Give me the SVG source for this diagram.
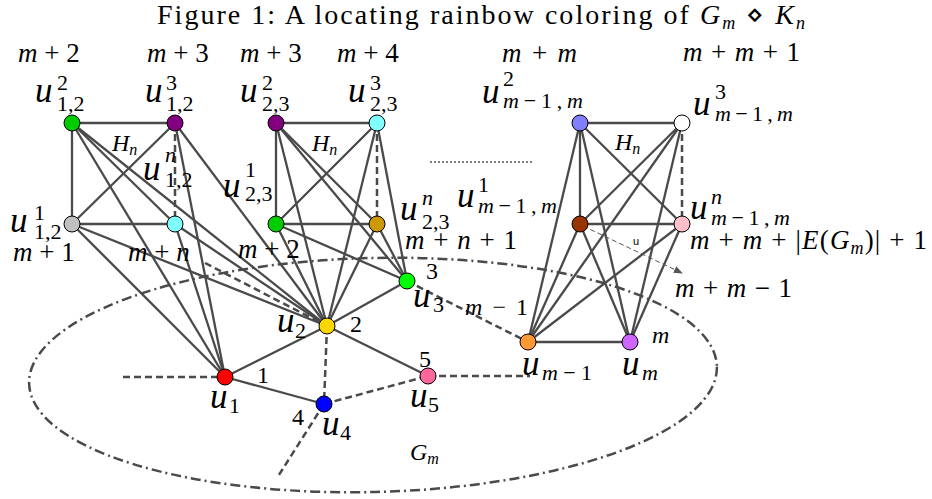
<svg xmlns="http://www.w3.org/2000/svg" width="932" height="499" viewBox="0 0 932 499" font-family="Liberation Serif, Times New Roman, serif">
<defs>
<style>
.e{stroke:#4a4a4a;stroke-width:2.3;fill:none}
.d{stroke:#4a4a4a;stroke-width:2.5;fill:none;stroke-dasharray:7 4}
.dd{stroke:#4a4a4a;stroke-width:2.5;fill:none;stroke-dasharray:10 4 2 4}
.n{stroke:#000;stroke-width:1}
.tx{fill:#000}
.it{font-style:italic}
.big{font-size:35px}
.sm{font-size:22px}
.md{font-size:27px}
.el{font-size:24px}
</style>
<marker id="ah" viewBox="0 0 10 10" refX="9" refY="5" markerWidth="9" markerHeight="9" orient="auto" markerUnits="userSpaceOnUse">
<path d="M0,1 L10,5 L0,9 Z" fill="#555"/>
</marker>
</defs>
<rect width="932" height="499" fill="#fff"/>

<text class="tx" x="157" y="24" font-size="28" textLength="648" lengthAdjust="spacing">Figure 1: A locating rainbow coloring of <tspan class="it">G</tspan><tspan font-size="18" class="it" dy="5">m</tspan><tspan dy="-5"> ⋄ </tspan><tspan class="it">K</tspan><tspan font-size="18" class="it" dy="5">n</tspan></text>

<ellipse class="dd" cx="373" cy="375" rx="344" ry="117" transform="rotate(-1.4 373 375)"/>

<g id="connectors">
<line class="e" x1="72" y1="123" x2="175" y2="123"/>
<line class="e" x1="72" y1="123" x2="72" y2="224"/>
<line class="e" x1="72" y1="224" x2="175" y2="224"/>
<line class="e" x1="175" y1="123" x2="72" y2="224"/>
<line class="e" x1="72" y1="123" x2="175" y2="224"/>
<line class="d" x1="175" y1="123" x2="175" y2="224"/>
<line class="e" x1="72" y1="123" x2="225" y2="377"/>
<line class="e" x1="72" y1="123" x2="327" y2="326"/>
<line class="e" x1="175" y1="123" x2="225" y2="377"/>
<line class="e" x1="175" y1="123" x2="327" y2="326"/>
<line class="e" x1="72" y1="224" x2="225" y2="377"/>
<line class="e" x1="72" y1="224" x2="327" y2="326"/>
<line class="e" x1="175" y1="224" x2="225" y2="377"/>
<line class="e" x1="175" y1="224" x2="327" y2="326"/>
<line class="d" x1="205" y1="263" x2="327" y2="326"/>
<line class="e" x1="276" y1="123" x2="377" y2="123"/>
<line class="e" x1="276" y1="123" x2="276" y2="224"/>
<line class="e" x1="276" y1="224" x2="377" y2="224"/>
<line class="e" x1="276" y1="123" x2="377" y2="224"/>
<line class="e" x1="377" y1="123" x2="276" y2="224"/>
<line class="d" x1="377" y1="123" x2="377" y2="224"/>
<line class="e" x1="276" y1="123" x2="327" y2="326"/>
<line class="e" x1="276" y1="123" x2="407" y2="281"/>
<line class="e" x1="377" y1="123" x2="327" y2="326"/>
<line class="e" x1="377" y1="123" x2="407" y2="281"/>
<line class="e" x1="276" y1="224" x2="327" y2="326"/>
<line class="e" x1="276" y1="224" x2="407" y2="281"/>
<line class="e" x1="377" y1="224" x2="327" y2="326"/>
<line class="e" x1="377" y1="224" x2="407" y2="281"/>
<line class="e" x1="580" y1="123" x2="682" y2="123"/>
<line class="e" x1="580" y1="123" x2="580" y2="224"/>
<line class="e" x1="580" y1="224" x2="682" y2="224"/>
<line class="e" x1="580" y1="123" x2="682" y2="224"/>
<line class="e" x1="682" y1="123" x2="580" y2="224"/>
<line class="d" x1="682" y1="123" x2="682" y2="224"/>
<line class="e" x1="580" y1="123" x2="528" y2="342"/>
<line class="e" x1="580" y1="123" x2="630" y2="342"/>
<line class="e" x1="682" y1="123" x2="528" y2="342"/>
<line class="e" x1="682" y1="123" x2="630" y2="342"/>
<line class="e" x1="580" y1="224" x2="528" y2="342"/>
<line class="e" x1="580" y1="224" x2="630" y2="342"/>
<line class="e" x1="682" y1="224" x2="528" y2="342"/>
<line class="e" x1="682" y1="224" x2="630" y2="342"/>
<line x1="583" y1="226" x2="682" y2="273" stroke="#555" stroke-width="1" stroke-dasharray="5 3" marker-end="url(#ah)"/>
<line class="e" x1="225" y1="377" x2="327" y2="326"/>
<line class="e" x1="327" y1="326" x2="407" y2="281"/>
<line class="e" x1="225" y1="377" x2="324" y2="404"/>
<line class="e" x1="327" y1="326" x2="428" y2="376"/>
<line class="e" x1="528" y1="342" x2="630" y2="342"/>
<line class="d" x1="327" y1="326" x2="324" y2="404"/>
<line class="d" x1="324" y1="404" x2="428" y2="376"/>
<line class="d" x1="407" y1="281" x2="528" y2="342"/>
<line class="d" x1="123" y1="377" x2="225" y2="377"/>
<line class="d" x1="428" y1="376" x2="530" y2="376"/>
<line class="d" x1="324" y1="404" x2="277" y2="478"/>
<line x1="430" y1="162" x2="533" y2="162" stroke="#555" stroke-width="1.6" stroke-dasharray="2 2"/>
</g>

<g id="u12-2">
<circle class="n" cx="72" cy="123" r="8" fill="#00cc00"/>
<text class="tx md" x="18" y="62"><tspan class="it">m</tspan> + 2</text>
<text class="tx it big" x="35" y="102">u</text><text class="tx sm" x="57" y="90">2</text><text class="tx sm" x="57" y="111">1,2</text>
</g>
<g id="u12-3">
<circle class="n" cx="175" cy="123" r="8" fill="#800080"/>
<text class="tx md" x="147" y="62"><tspan class="it">m</tspan> + 3</text>
<text class="tx it big" x="145" y="102">u</text><text class="tx sm" x="166" y="90">3</text><text class="tx sm" x="166" y="111">1,2</text>
</g>
<g id="u12-1">
<circle class="n" cx="72" cy="224" r="8" fill="#c0c0c0"/>
<text class="tx md" x="13" y="261"><tspan class="it">m</tspan> + 1</text>
<text class="tx it big" x="10" y="232">u</text><text class="tx sm" x="34" y="220">1</text><text class="tx sm" x="34" y="239">1,2</text>
</g>
<g id="u12-n">
<circle class="n" cx="175" cy="224" r="8" fill="#80ffff"/>
<text class="tx md" x="128" y="261"><tspan class="it">m</tspan> + <tspan class="it">n</tspan></text>
<text class="tx it big" x="143" y="180">u</text><text class="tx sm it" x="165" y="162">n</text><text class="tx sm" x="165" y="187">1,2</text>
</g>
<text class="tx it" x="112" y="151" font-size="24">H<tspan font-size="16" dy="4">n</tspan></text>

<g id="u23-2">
<circle class="n" cx="276" cy="123" r="8" fill="#800080"/>
<text class="tx md" x="240" y="62"><tspan class="it">m</tspan> + 3</text>
<text class="tx it big" x="240" y="102">u</text><text class="tx sm" x="262" y="90">2</text><text class="tx sm" x="262" y="111">2,3</text>
</g>
<g id="u23-3">
<circle class="n" cx="377" cy="123" r="8" fill="#80ffff"/>
<text class="tx md" x="337" y="62"><tspan class="it">m</tspan> + 4</text>
<text class="tx it big" x="348" y="102">u</text><text class="tx sm" x="370" y="90">3</text><text class="tx sm" x="370" y="111">2,3</text>
</g>
<g id="u23-1">
<circle class="n" cx="276" cy="224" r="8" fill="#00cc00"/>
<text class="tx md" x="238" y="258"><tspan class="it">m</tspan> + 2</text>
<text class="tx it big" x="223" y="197">u</text><text class="tx sm" x="245" y="177">1</text><text class="tx sm" x="245" y="201">2,3</text>
</g>
<g id="u23-n">
<circle class="n" cx="377" cy="224" r="8" fill="#cc9900"/>
<text class="tx md" x="405" y="249" textLength="112" lengthAdjust="spacing"><tspan class="it">m</tspan> + <tspan class="it">n</tspan> + 1</text>
<text class="tx it big" x="400" y="220">u</text><text class="tx sm it" x="422" y="205">n</text><text class="tx sm" x="422" y="229">2,3</text>
</g>
<text class="tx it" x="312" y="151" font-size="24">H<tspan font-size="16" dy="4">n</tspan></text>

<g id="um-2">
<circle class="n" cx="580" cy="123" r="8" fill="#7f7fff"/>
<text class="tx md" x="502" y="62" textLength="75" lengthAdjust="spacing"><tspan class="it">m</tspan> + <tspan class="it">m</tspan></text>
<text class="tx it big" x="482" y="103">u</text><text class="tx sm" x="503" y="86">2</text><text class="tx sm" x="503" y="108" textLength="80" lengthAdjust="spacing"><tspan class="it">m</tspan>−1,<tspan class="it">m</tspan></text>
</g>
<g id="um-3">
<circle class="n" cx="682" cy="123" r="8" fill="#ffffff"/>
<text class="tx md" x="683" y="61" textLength="117" lengthAdjust="spacing"><tspan class="it">m</tspan> + <tspan class="it">m</tspan> + 1</text>
<text class="tx it big" x="693" y="115">u</text><text class="tx sm" x="715" y="99">3</text><text class="tx sm" x="715" y="121" textLength="78" lengthAdjust="spacing"><tspan class="it">m</tspan>−1,<tspan class="it">m</tspan></text>
</g>
<g id="um-1">
<circle class="n" cx="580" cy="224" r="8" fill="#993300"/>
<text class="tx it big" x="457" y="207">u</text><text class="tx sm" x="478" y="192">1</text><text class="tx sm" x="478" y="213" textLength="79" lengthAdjust="spacing"><tspan class="it">m</tspan>−1,<tspan class="it">m</tspan></text>
<text x="633" y="245" font-family="Liberation Sans, sans-serif" font-size="11" fill="#000">u</text>
<text class="tx md" x="675" y="297" textLength="117" lengthAdjust="spacing"><tspan class="it">m</tspan> + <tspan class="it">m</tspan> − 1</text>
</g>
<g id="um-n">
<circle class="n" cx="682" cy="224" r="8" fill="#ffc0cb"/>
<text class="tx it big" x="690" y="219">u</text><text class="tx sm it" x="711" y="204">n</text><text class="tx sm" x="711" y="225" textLength="79" lengthAdjust="spacing"><tspan class="it">m</tspan>−1,<tspan class="it">m</tspan></text>
<text class="tx md" x="690" y="249" textLength="237" lengthAdjust="spacing"><tspan class="it">m</tspan> + <tspan class="it">m</tspan> + |<tspan class="it">E</tspan>(<tspan class="it">G</tspan><tspan class="it" font-size="18" dy="5">m</tspan><tspan dy="-5">)| + 1</tspan></text>
</g>
<text class="tx it" x="615" y="150" font-size="24">H<tspan font-size="16" dy="4">n</tspan></text>

<g id="u1">
<circle class="n" cx="225" cy="377" r="8" fill="#ff0000"/>
<text class="tx it big" x="210" y="408">u</text><text class="tx sm" x="229" y="413">1</text>
<text class="tx el" x="257" y="383">1</text>
</g>
<g id="u2">
<circle class="n" cx="327" cy="326" r="8" fill="#ffd700"/>
<text class="tx it big" x="277" y="332">u</text><text class="tx sm" x="295" y="338">2</text>
<text class="tx el" x="350" y="332">2</text>
</g>
<g id="u3">
<circle class="n" cx="407" cy="281" r="8" fill="#00ff00"/>
<text class="tx it big" x="413" y="307">u</text><text class="tx sm" x="433" y="312">3</text>
<text class="tx el" x="426" y="279">3</text>
</g>
<g id="u4">
<circle class="n" cx="324" cy="404" r="8" fill="#0000ff"/>
<text class="tx it big" x="322" y="435">u</text><text class="tx sm" x="340" y="440">4</text>
<text class="tx el" x="292" y="425">4</text>
</g>
<g id="u5">
<circle class="n" cx="428" cy="376" r="8" fill="#ff6699"/>
<text class="tx it big" x="410" y="407">u</text><text class="tx sm" x="428" y="412">5</text>
<text class="tx el" x="419" y="367">5</text>
</g>
<g id="um1">
<circle class="n" cx="528" cy="342" r="8" fill="#ff9933"/>
<text class="tx it big" x="522" y="375">u</text><text class="tx sm" x="542" y="380" textLength="50" lengthAdjust="spacing"><tspan class="it">m</tspan>−1</text>
<text class="tx el" x="465" y="315" textLength="63" lengthAdjust="spacing"><tspan class="it">m</tspan> − 1</text>
</g>
<g id="um">
<circle class="n" cx="630" cy="342" r="8" fill="#cc66ff"/>
<text class="tx it big" x="622" y="375">u</text><text class="tx sm it" x="642" y="380">m</text>
<text class="tx el it" x="652" y="343">m</text>
</g>
<text class="tx it" x="410" y="460" font-size="24">G<tspan font-size="16" dy="4">m</tspan></text>
</svg>
